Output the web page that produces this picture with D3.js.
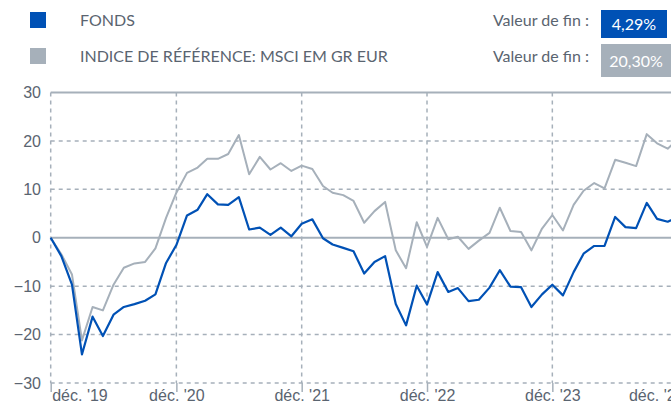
<!DOCTYPE html>
<html>
<head>
<meta charset="utf-8">
<script src="https://cdn.jsdelivr.net/npm/d3@7"></script>
<style>
  body { margin: 0; background: #fff; overflow: hidden; }
  svg { display: block; font-family: "Source Sans Pro", Lato, "Liberation Sans", sans-serif; }
  .tick text { fill: #5a6470; font-size: 16px; }
</style>
</head>
<body>
<script>
//monthly performance in %, from déc. 2019 to déc. 2024
var fonds = [0, -3.8, -9.7, -24.1, -16.3, -20.3, -15.9, -14.3, -13.7, -13.0, -11.7, -5.2,
  -1.5, 4.6, 5.8, 9.0, 6.9, 6.8, 8.4, 1.7, 2.1, 0.6, 2.1, 0.3,
  2.9, 3.8, -0.1, -1.4, -2.1, -2.8, -7.4, -5.0, -3.8, -13.7, -18.1, -9.9,
  -13.8, -7.1, -11.2, -10.4, -13.1, -12.8, -10.3, -6.7, -10.1, -10.2, -14.3, -11.7,
  -9.7, -11.9, -7.1, -3.3, -1.7, -1.7, 4.3, 2.2, 2.0, 7.2, 3.9, 3.3, 4.29];

var indice = [0, -3.4, -7.6, -21.2, -14.3, -15.0, -9.7, -6.2, -5.3, -5.0, -2.2, 4.1,
  9.3, 13.4, 14.5, 16.3, 16.3, 17.3, 21.2, 13.1, 16.7, 14.1, 15.4, 13.8,
  14.9, 14.2, 10.7, 9.3, 8.8, 7.6, 3.1, 5.5, 7.4, -2.6, -6.3, 3.2,
  -1.9, 4.1, -0.3, 0.2, -2.3, -0.6, 1.0, 6.2, 1.4, 1.2, -2.6, 1.9,
  4.7, 1.5, 6.8, 9.7, 11.3, 10.2, 16.1, 15.5, 14.8, 21.4, 19.5, 18.4, 20.30];

var xTickLabels = ["déc. '19", "déc. '20", "déc. '21", "déc. '22", "déc. '23", "déc. '24"];
var yTicks = [-30, -20, -10, 0, 10, 20, 30];

var legendNames = ["FONDS", "INDICE DE RÉFÉRENCE: MSCI EM GR EUR"];
var legendEnd = ["4,29%", "20,30%"];
var colors = ["#0051b5", "#a6b0ba"];

var width = 671,
    height = 406;

var svg = d3.select("body")
    .append("svg")
    .attr("width", width)
    .attr("height", height);

var start = new Date(2019, 11, 1);
var months = d3.range(fonds.length).map(function(i){ return d3.timeMonth.offset(start, i); });
var decembers = xTickLabels.map(function(d, i){ return d3.timeMonth.offset(start, i * 12); });

var x = d3.scaleTime()
    .domain([start, months[months.length - 1]])
    .range([50.7, 678]);

var y = d3.scaleLinear()
    .domain([-30, 30])
    .range([383, 92.5]);

var gridColor = "#a6b0ba";

//horizontal grid
svg.selectAll(".hgrid")
    .data(yTicks)
    .enter()
    .append("line")
    .attr("x1", 50.7)
    .attr("x2", width)
    .attr("y1", function(d){ return y(d); })
    .attr("y2", function(d){ return y(d); })
    .attr("stroke", gridColor)
    .attr("stroke-width", function(d){ return (d === 0 || d === 30) ? 2 : 1.5; })
    .attr("stroke-dasharray", function(d){ return (d === 0 || d === 30) ? null : "4,4"; });

//vertical grid
svg.selectAll(".vgrid")
    .data(decembers)
    .enter()
    .append("line")
    .attr("x1", function(d){ return x(d); })
    .attr("x2", function(d){ return x(d); })
    .attr("y1", y(30))
    .attr("y2", y(-30))
    .attr("stroke", gridColor)
    .attr("stroke-width", 1.5)
    .attr("stroke-dasharray", "4,4");

//y axis labels
var yAxis = svg.append("g")
    .attr("transform", "translate(41,0)")
    .call(d3.axisLeft(y).tickValues(yTicks).tickSize(0).tickPadding(0));
yAxis.select(".domain").remove();

//x axis
var xAxis = svg.append("g")
    .attr("transform", "translate(0," + y(-30) + ")")
    .call(d3.axisBottom(x)
        .tickValues(decembers)
        .tickSize(9)
        .tickPadding(0)
        .tickFormat(function(d, i){ return xTickLabels[i]; }));
xAxis.select(".domain").remove();
xAxis.selectAll(".tick line").attr("stroke", gridColor).attr("stroke-width", 1.5);
xAxis.selectAll(".tick text").attr("dy", "0.55em");
//first and last labels are justified inside the chart area
xAxis.select(".tick text").attr("text-anchor", "start").attr("dx", 1);
xAxis.selectAll(".tick text").filter(function(d, i){ return i === xTickLabels.length - 1; })
    .attr("text-anchor", "end")
    .attr("dx", 6);

//lines
var line = d3.line()
    .x(function(d, i){ return x(months[i]); })
    .y(function(d){ return y(d); });

svg.append("path")
    .datum(indice)
    .attr("fill", "none")
    .attr("stroke", colors[1])
    .attr("stroke-width", 2)
    .attr("stroke-linejoin", "round")
    .attr("d", line);

svg.append("path")
    .datum(fonds)
    .attr("fill", "none")
    .attr("stroke", colors[0])
    .attr("stroke-width", 2.2)
    .attr("stroke-linejoin", "round")
    .attr("d", line);

//legend
var rowY = [20, 56];
var legend = svg.selectAll(".legend")
    .data(legendNames)
    .enter()
    .append("g")
    .attr("transform", function(d, i){ return "translate(0," + rowY[i] + ")"; });

legend.append("rect")
    .attr("x", 30)
    .attr("y", -8)
    .attr("width", 16)
    .attr("height", 16)
    .attr("fill", function(d, i){ return colors[i]; });

legend.append("text")
    .attr("x", 80)
    .attr("y", 6)
    .attr("fill", "#5a6470")
    .style("font-size", "16px")
    .text(function(d){ return d; });

legend.append("text")
    .attr("x", 589)
    .attr("y", 6)
    .attr("text-anchor", "end")
    .attr("fill", "#5a6470")
    .style("font-size", "16px")
    .text("Valeur de fin :");

legend.append("rect")
    .attr("x", 601)
    .attr("y", function(d, i){ return i === 0 ? -10 : -12; })
    .attr("width", function(d, i){ return i === 0 ? 66 : 75; })
    .attr("height", function(d, i){ return i === 0 ? 28 : 33; })
    .attr("fill", function(d, i){ return colors[i]; });

legend.append("text")
    .attr("x", function(d, i){ return i === 0 ? 634 : 636; })
    .attr("y", function(d, i){ return i === 0 ? 10 : 11; })
    .attr("text-anchor", "middle")
    .attr("fill", "#fff")
    .style("font-size", "16px")
    .text(function(d, i){ return legendEnd[i]; });
</script>
</body>
</html>
